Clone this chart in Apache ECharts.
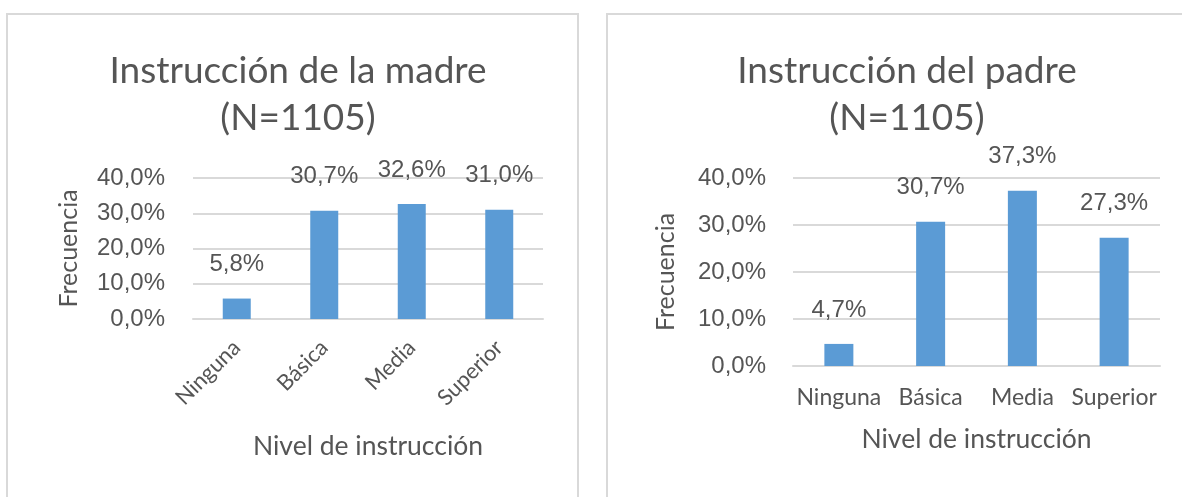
<!DOCTYPE html>
<html>
<head>
<meta charset="utf-8">
<script src="https://cdn.jsdelivr.net/npm/echarts@6/dist/echarts.min.js"></script>
<style>
html,body{margin:0;padding:0;background:#fff;}
#c{width:1182px;height:497px;}
</style>
</head>
<body>
<div id="c"></div>
<script>
const categories = ['Ninguna', 'Básica', 'Media', 'Superior'];
const madreValues = [5.8, 30.7, 32.6, 31.0];
const padreValues = [4.7, 30.7, 37.3, 27.3];
const titleMadre = 'Instrucción de la madre\n(N=1105)';
const titlePadre = 'Instrucción del padre\n(N=1105)';
const xName = 'Nivel de instrucción';
const yName = 'Frecuencia';

const TXT = '#555555';
const GRID = '#d9d9d9';
const BAR = '#5b9bd5';
const CAL = 'Lato, "Open Sans", sans-serif';
const ARI = '"Liberation Sans", Arial, sans-serif';
const pct = v => v.toFixed(1).replace('.', ',') + '%';

const chart = echarts.init(document.getElementById('c'));

function yAxis(gridIndex, gap, margin) {
  return {
    type: 'value', gridIndex, min: 0, max: 40, interval: 10,
    name: yName, nameLocation: 'middle', nameGap: gap, nameRotate: 90,
    nameTextStyle: { fontFamily: CAL, fontSize: 25, color: TXT },
    axisLine: { show: false }, axisTick: { show: false },
    axisLabel: { formatter: pct, fontFamily: ARI, fontSize: 24, color: TXT, margin },
    splitLine: { lineStyle: { color: GRID, width: 2 } }
  };
}
function xAxis(gridIndex, rotate, margin, gap, fs) {
  return {
    type: 'category', gridIndex, data: categories,
    name: xName, nameLocation: 'middle', nameGap: gap,
    nameTextStyle: { fontFamily: CAL, fontSize: 26.5, color: TXT },
    axisLine: { lineStyle: { color: GRID, width: 2 } },
    axisTick: { show: false },
    axisLabel: { rotate, margin, fontFamily: CAL, fontSize: fs, color: TXT, interval: 0 }
  };
}
function series(idx, data, bw) {
  return {
    type: 'bar', xAxisIndex: idx, yAxisIndex: idx, data, barWidth: bw,
    itemStyle: { color: BAR },
    label: { show: true, position: 'top', distance: 22, formatter: p => pct(p.value),
             fontFamily: ARI, fontSize: 24, color: TXT },
    silent: true
  };
}

chart.setOption({
  animation: false,
  title: [
    { text: titleMadre, left: 293, top: 43, textAlign: 'center',
      textStyle: { fontFamily: CAL, fontSize: 37, fontWeight: 'normal', color: TXT, lineHeight: 47 } },
    { text: titlePadre, left: 902, top: 43, textAlign: 'center',
      textStyle: { fontFamily: CAL, fontSize: 37, fontWeight: 'normal', color: TXT, lineHeight: 47 } }
  ],
  graphic: [
    { type: 'rect', shape: { x: 7, y: 14, width: 571, height: 520 }, style: { fill: 'none', stroke: GRID, lineWidth: 2 }, silent: true },
    { type: 'rect', shape: { x: 607, y: 14, width: 620, height: 520 }, style: { fill: 'none', stroke: GRID, lineWidth: 2 }, silent: true }
  ],
  grid: [
    { left: 193, top: 178, width: 350, height: 141 },
    { left: 793, top: 178, width: 367, height: 188 }
  ],
  xAxis: [ xAxis(0, 45, 25, 114, 22), xAxis(1, 0, 20, 60, 23) ],
  yAxis: [ yAxis(0, 112, 28), yAxis(1, 115, 27) ],
  series: [ series(0, madreValues, 28), series(1, padreValues, 29) ]
});
</script>
</body>
</html>
